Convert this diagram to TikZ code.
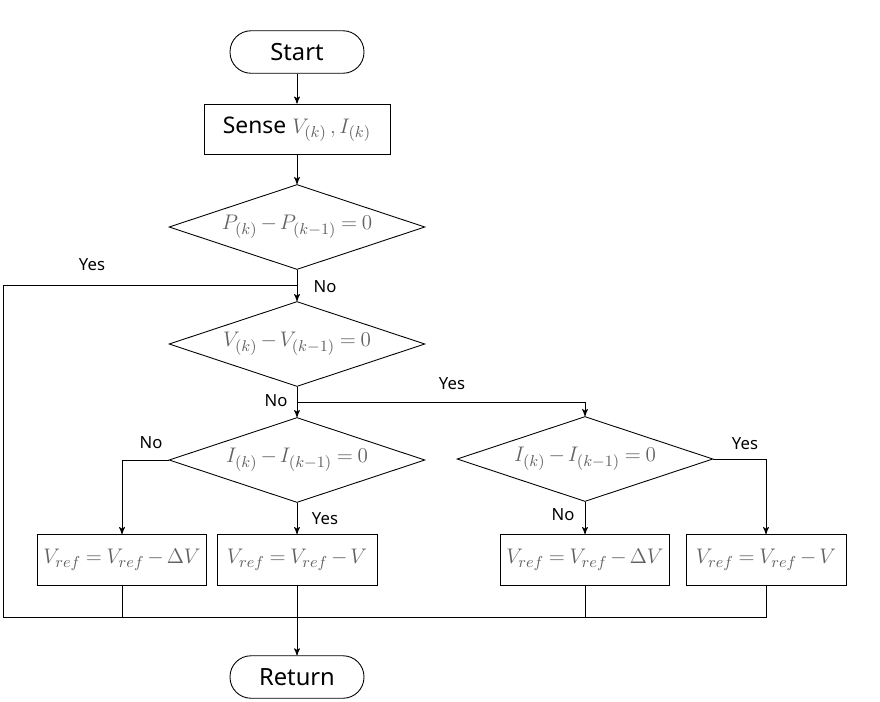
\documentclass[tikz,border=0pt]{standalone}
\usepackage[no-math]{fontspec}
\setmainfont{Noto Sans}
\usepackage{amsmath}
\usepackage{tikz}
\usetikzlibrary{shapes,arrows,positioning}
\newcommand{\tightmath}{\medmuskip=2.5mu\relax\thickmuskip=4mu\relax}

\begin{document}
\begin{tikzpicture}[->,>=stealth',x=0.02cm,y=-0.02cm,line width=0.5pt]
\tikzstyle{term}=[draw=black,rectangle,rounded corners=0.42cm,minimum width=2.68cm,minimum height=0.85cm,font=\fontsize{13.5}{15}\selectfont]
\tikzstyle{proc}=[draw=black,rectangle,minimum width=3.2cm,minimum height=1.02cm,text=black!62,font=\fontsize{13}{15}\selectfont\tightmath]
\tikzstyle{decision}=[draw=black,diamond,aspect=3,inner sep=0pt,minimum width=5.12cm,minimum height=1.7cm,text=black!62,font=\fontsize{13}{15}\selectfont\tightmath]
\tikzstyle{lbl}=[font=\fontsize{9.5}{11}\selectfont,inner sep=1pt]
\useasboundingbox (0,0) rectangle (880,701);
\node[term] (Start) at (297,52) {Start};
\node[proc,minimum width=3.72cm,minimum height=1cm,text=black] (Sense) at (297,129) {Sense \textcolor{black!62}{$V_{(k)}\,,I_{(k)}$}};
\node[decision] (PChk) at (297,227) {$P_{(k)}-P_{(k-1)}=0$};
\node[decision] (VChk) at (297,344) {$V_{(k)}-V_{(k-1)}=0$};
\node[decision] (IChkA) at (297,460) {$I_{(k)}-I_{(k-1)}=0$};
\node[decision] (IChkB) at (585,459) {$I_{(k)}-I_{(k-1)}=0$};
\node[proc] (DecA) at (122,560) {$V_{ref}=V_{ref}-\Delta V$};
\node[proc] (SubA) at (297,560) {$V_{ref}=V_{ref}-V$};
\node[proc] (DecB) at (585,560) {$V_{ref}=V_{ref}-\Delta V$};
\node[proc] (SubB) at (766,560) {$V_{ref}=V_{ref}-V$};
\node[term] (Return) at (297,677) {Return};
% joints
\coordinate (JoinP) at (297,285);
\coordinate (CornerT) at (3,285);
\coordinate (CornerB) at (3,617);
\coordinate (SplitV) at (297,402);
% labels
\node[lbl] (YesP) at (92,265) {Yes};
\node[lbl] (NoP) at (325,287) {No};
\node[lbl] (NoV) at (276,401) {No};
\node[lbl] (YesV) at (452,384) {Yes};
\node[lbl] (NoIA) at (151,443) {No};
\node[lbl] (YesIA) at (325,519) {Yes};
\node[lbl] (NoIB) at (563,515) {No};
\node[lbl] (YesIB) at (745,444) {Yes};
% flow
\draw (Start) -- (Sense);
\draw (Sense) -- (PChk);
\draw (PChk.south) -- (VChk.north);
\draw[-] (VChk.south) -- (SplitV);
\draw (SplitV) -- (IChkA.north);
\draw (SplitV) -| (IChkB.north);
\draw (IChkA.west) -| (DecA.north);
\draw (IChkA.south) -- (SubA.north);
\draw (IChkB.south) -- (DecB.north);
\draw (IChkB.east) -| (SubB.north);
\draw (SubA.south) -- (Return.north);
% loop back
\draw[-] (JoinP) -- (CornerT) -- (CornerB) -- (SubB.south |- CornerB) -- (SubB.south);
\draw[-] (DecA.south) -- (DecA.south |- CornerB);
\draw[-] (DecB.south) -- (DecB.south |- CornerB);
\end{tikzpicture}
\end{document}
